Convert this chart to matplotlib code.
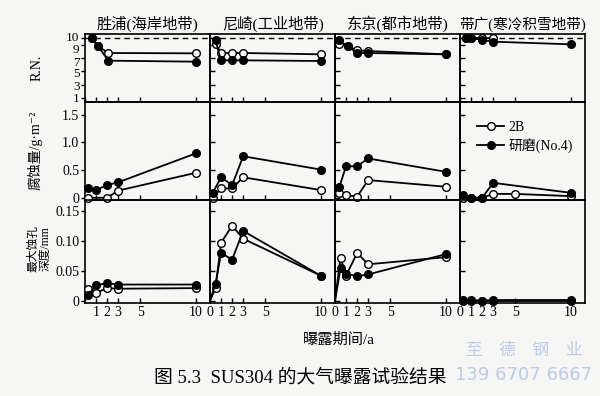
import matplotlib
matplotlib.use('Agg')
import matplotlib.pyplot as plt
from matplotlib.lines import Line2D
from matplotlib.transforms import ScaledTranslation

plt.rcParams['font.family'] = ['Liberation Serif', 'Noto Sans CJK SC', 'DejaVu Sans']

sites = ['胜浦(海岸地带)', '尼崎(工业地带)', '东京(都市地带)', '带广(寒冷积雪地带)']

# rating number
rn_2b_x = [[0.6, 1.2, 2.1, 10], [0.5, 1, 2, 3, 10], [0.4, 1.15, 2, 3, 10], [0.5, 1, 2, 3]]
rn_2b = [[10, 8.75, 7.75, 7.7], [9.15, 7.75, 7.75, 7.75, 7.55],
         [9.15, 8.75, 8.15, 8.05, 7.55], [10, 10, 10, 9.95]]
rn_no4_x = [[0.6, 1.2, 2.1, 10], [0.5, 1, 2, 3, 10], [0.4, 1.15, 2, 3, 10], [0.5, 1, 2, 3, 10]]
rn_no4 = [[10, 8.75, 6.6, 6.45], [9.65, 6.65, 6.65, 6.65, 6.55],
          [9.65, 8.75, 7.75, 7.75, 7.55], [10, 10, 9.7, 9.45, 9.05]]

# corrosion mass loss, g/m2
mass_2b_x = [[0.25, 2, 3, 10], [0.25, 1, 2, 3, 10], [0.4, 1, 2, 3, 10], [0.25, 1, 2, 3, 5, 10]]
mass_2b = [[0, 0, 0.13, 0.45], [0, 0.17, 0.17, 0.37, 0.14],
           [0.08, 0.05, 0.02, 0.32, 0.2], [0, 0, 0, 0.07, 0.07, 0.03]]
mass_no4_x = [[0.25, 1, 2, 3, 10], [0.25, 1, 2, 3, 10], [0.4, 1, 2, 3, 10], [0.25, 1, 2, 3, 10]]
mass_no4 = [[0.18, 0.14, 0.23, 0.28, 0.8], [0.09, 0.37, 0.23, 0.75, 0.51],
            [0.2, 0.57, 0.57, 0.71, 0.47], [0.05, 0, 0, 0.27, 0.09]]

# max pit depth, mm
pit_x = [[0.3, 1, 2, 3, 10], [0, 0.5, 1, 2, 3, 10], [0, 0.5, 1, 2, 3, 10], [0.25, 1, 2, 3, 10]]
pit_2b = [[0.02, 0.013, 0.021, 0.02, 0.021], [0, 0.021, 0.097, 0.126, 0.104, 0.042],
          [0, 0.072, 0.042, 0.080, 0.061, 0.073], [0, 0, 0, 0, 0]]
pit_no4 = [[0.01, 0.026, 0.029, 0.027, 0.027], [0, 0.028, 0.08, 0.069, 0.117, 0.042],
           [0, 0.055, 0.045, 0.041, 0.044, 0.078], [0.001, 0.001, 0, 0.001, 0.001]]

rows = [(rn_2b_x, rn_2b, rn_no4_x, rn_no4),
        (mass_2b_x, mass_2b, mass_no4_x, mass_no4),
        (pit_x, pit_2b, pit_x, pit_no4)]
ylims = [(0.4, 10.6), (-0.04, 1.73), (-0.004, 0.169)]
yticks = [[1, 3, 5, 7, 9, 10], [0, 0.5, 1.0, 1.5], [0, 0.05, 0.10, 0.15]]
ylabels = [['1', '3', '5', '7', '9', '10'], ['0', '0.5', '1.0', '1.5'], ['0', '0.05', '0.10', '0.15']]
xticks = [0, 1, 2, 3, 5, 10]
# the crowded R.N. labels sit a little off their ticks in the book (px, + = down)
rn_label_shift = [0, 1, 1.5, 3, 4, -1.5]

bg = '#f6f6f4'
fig = plt.figure(figsize=(6, 3.96), dpi=100, facecolor=bg)
gs = fig.add_gridspec(3, 4, left=85/600, right=585/600, top=1-34/396, bottom=1-303/396,
                      wspace=0, hspace=0, height_ratios=[68, 98, 103])

for r in range(3):
    xo, yo, xf, yf = rows[r]
    for c in range(4):
        ax = fig.add_subplot(gs[r, c])
        ax.set_facecolor('none')
        ax.set_xlim(0, 11.3)
        ax.set_ylim(*ylims[r])
        mk_o = list(range(1, len(xo[c]))) if xo[c][0] == 0 else None
        mk_f = list(range(1, len(xf[c]))) if xf[c][0] == 0 else None
        ax.plot(xo[c], yo[c], '-o', color='k', mfc='white', mec='k', ms=5.5, mew=1,
                lw=1.3, clip_on=False, zorder=3, markevery=mk_o)
        ax.plot(xf[c], yf[c], '-o', color='k', mfc='k', mec='k', ms=5.5,
                lw=1.3, clip_on=False, zorder=4, markevery=mk_f)
        if r == 0:
            ax.axhline(10, color='k', lw=1, ls=(0, (4, 3)), zorder=2)
            ax.set_title(sites[c], fontsize=11 if c < 3 else 10.5, pad=4)
        for s in ax.spines.values():
            s.set_linewidth(1.2)
        ax.set_xticks(xticks)
        ax.set_yticks(yticks[r])
        ax.tick_params(direction='in', length=3.5, width=1, labelsize=10, pad=2)
        if c == 0:
            ax.set_yticklabels(ylabels[r])
            ax.tick_params(axis='y', direction='out', length=3, pad=1)
            if r == 0:
                ax.tick_params(axis='y', labelsize=9.5)
                for tk, dy in zip(ax.yaxis.get_major_ticks(), rn_label_shift):
                    tk.label1.set_transform(tk.label1.get_transform() +
                                            ScaledTranslation(0, -dy/100, fig.dpi_scale_trans))
        else:
            ax.set_yticklabels([])
        if r == 2:
            if c == 0:
                ax.set_xticklabels(['', '1', '2', '3', '5', '10'])
            else:
                ax.set_xticklabels(['0', '1', '2', '3', '5', '10'])
        else:
            ax.set_xticklabels([])
        if r == 1 and c == 3:
            handles = [Line2D([], [], color='k', marker='o', mfc='white', ms=5.5, lw=1.3),
                       Line2D([], [], color='k', marker='o', mfc='k', ms=5.5, lw=1.3)]
            ax.legend(handles, ['2B', '研磨(No.4)'], loc='upper left', bbox_to_anchor=(0.14, 0.81),
                      frameon=False, handlelength=1.9, handletextpad=0.3, labelspacing=0.35,
                      fontsize=10, borderaxespad=0, borderpad=0)

fig.text(37/600, 1-68/396, 'R.N.', rotation=90, ha='center', va='center', fontsize=10)
fig.text(35/600, 1-150/396, '腐蚀量/g·m⁻²', rotation=90, ha='center', va='center', fontsize=10)
fig.text(39/600, 1-249/396, '最大蚀孔\n深度/mm', rotation=90, ha='center', va='center',
         fontsize=8.5, linespacing=1.0)
fig.text(339/600, 1-340/396, '曝露期间/a', ha='center', va='center', fontsize=11)
fig.text(300/600, 1-378/396, '图 5.3  SUS304 的大气曝露试验结果', ha='center', va='center', fontsize=13.5)

# scan watermark
fig.text(524/600, 1-350/396, '至　德　钢　业', ha='center', va='center', fontsize=12,
         color='#bccbea', family=['Noto Sans CJK SC'])
fig.text(524/600, 1-375/396, '139 6707 6667', ha='center', va='center', fontsize=13,
         color='#bccbea', family=['DejaVu Sans'])

fig.savefig('out.png', dpi=100, facecolor=bg)
